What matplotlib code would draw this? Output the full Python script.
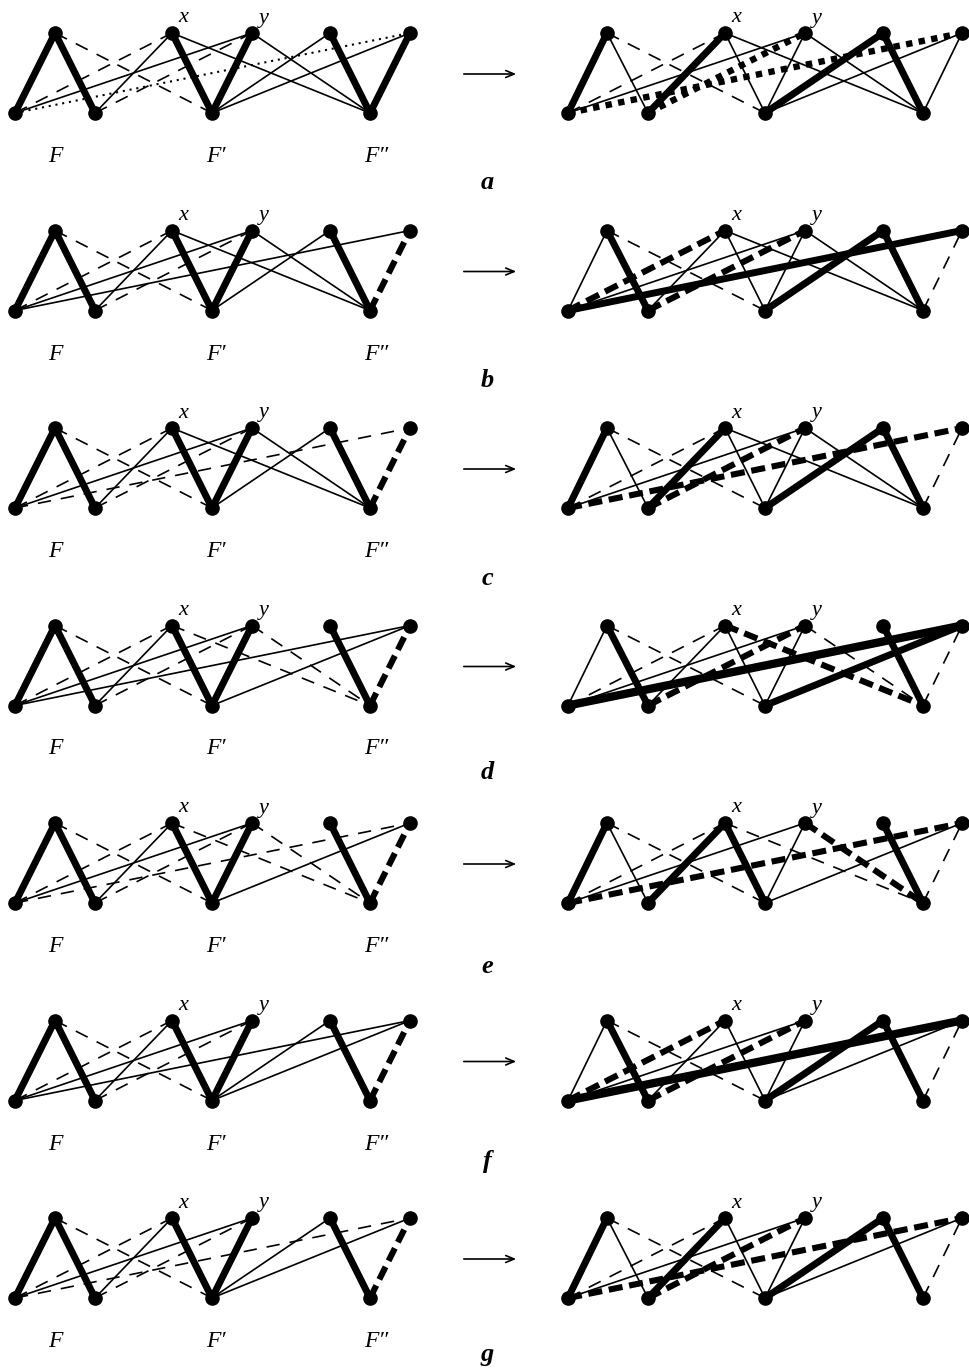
import matplotlib
matplotlib.use("Agg")
import matplotlib.pyplot as plt

# ---------------- data ----------------
ROW_LABELS = ["a", "b", "c", "d", "e", "f", "g"]
GROUP_LABELS = ["F", "F\u2032", "F\u2033"]
TOP_NAMES = ["x", "y"]

# edge kinds: K thick, V very thick, t thin, d dashed, D thick dashed,
# o dotted, O thick dotted
LEFT_EDGES = [
    {"K": ["B0T0", "T0B1", "T1B2", "B2T2", "T3B3", "B3T4"],
     "d": ["T0B2", "B0T1", "B1T2"],
     "t": ["B0T2", "B1T1", "T1B3", "T2B3", "B2T3", "B2T4"],
     "o": ["B0T4"]},
    {"K": ["B0T0", "T0B1", "T1B2", "B2T2", "T3B3"], "D": ["B3T4"],
     "d": ["T0B2", "B0T1", "B1T2"],
     "t": ["B1T1", "B0T2", "B0T4", "T1B3", "T2B3", "B2T3"]},
    {"K": ["B0T0", "T0B1", "T1B2", "B2T2", "T3B3"], "D": ["B3T4"],
     "d": ["T0B2", "B0T1", "B1T2", "B0T4"],
     "t": ["B1T1", "B0T2", "T1B3", "T2B3", "B2T3"]},
    {"K": ["B0T0", "T0B1", "T1B2", "B2T2", "T3B3"], "D": ["B3T4"],
     "d": ["T0B2", "B0T1", "B1T2", "T1B3", "T2B3"],
     "t": ["B1T1", "B0T2", "B0T4", "B2T4"]},
    {"K": ["B0T0", "T0B1", "T1B2", "B2T2", "T3B3"], "D": ["B3T4"],
     "d": ["T0B2", "B0T1", "B1T2", "B0T4", "T1B3", "T2B3"],
     "t": ["B1T1", "B0T2", "B2T4"]},
    {"K": ["B0T0", "T0B1", "T1B2", "B2T2", "T3B3"], "D": ["B3T4"],
     "d": ["T0B2", "B0T1", "B1T2"],
     "t": ["B1T1", "B0T2", "B0T4", "B2T3", "B2T4"]},
    {"K": ["B0T0", "T0B1", "T1B2", "B2T2", "T3B3"], "D": ["B3T4"],
     "d": ["T0B2", "B0T1", "B1T2", "B0T4"],
     "t": ["B1T1", "B0T2", "B2T3", "B2T4"]},
]

RIGHT_EDGES = [
    {"K": ["B0T0", "B1T1", "B2T3", "T3B3"],
     "t": ["T0B1", "T1B2", "B2T2", "T1B3", "T2B3", "B2T4", "B3T4", "B0T2"],
     "d": ["T0B2", "B0T1"],
     "O": ["B1T2", "B0T4"]},
    {"K": ["T0B1", "B0T4", "B2T3", "T3B3"],
     "t": ["B0T0", "B1T1", "T1B2", "B2T2", "T1B3", "T2B3", "B0T2"],
     "d": ["T0B2", "B3T4"],
     "D": ["B0T1", "B1T2"]},
    {"K": ["B0T0", "B1T1", "B2T3", "T3B3"],
     "t": ["T0B1", "T1B2", "B2T2", "B0T2", "T1B3", "T2B3"],
     "d": ["T0B2", "B0T1", "B3T4"],
     "D": ["B0T4", "B1T2"]},
    {"V": ["B0T4"], "K": ["T0B1", "B2T4", "T3B3"],
     "t": ["B0T0", "B1T1", "T1B2", "B2T2", "B0T2"],
     "d": ["T0B2", "B0T1", "B3T4", "T2B3"],
     "D": ["T1B3", "B1T2"]},
    {"K": ["B0T0", "B1T1", "T1B2", "T3B3"],
     "t": ["T0B1", "B2T2", "B0T2", "B2T4"],
     "d": ["T0B2", "B0T1", "B3T4", "T1B3"],
     "D": ["B0T4", "T2B3"]},
    {"V": ["B0T4"], "K": ["T0B1", "B2T3", "T3B3"],
     "t": ["B0T0", "B1T1", "T1B2", "B2T2", "B0T2", "B2T4"],
     "d": ["T0B2", "B3T4"],
     "D": ["B0T1", "B1T2"]},
    {"K": ["B0T0", "B1T1", "B2T3", "T3B3"],
     "t": ["T0B1", "T1B2", "B2T2", "B0T2", "B2T4"],
     "d": ["T0B2", "B0T1", "B3T4"],
     "D": ["B0T4", "B1T2"]},
]

# ---------------- layout ----------------
W, H = 969, 1371
LEFT_BOTTOM_X = [15, 95, 212, 370]
LEFT_TOP_X = [55, 172, 252, 330, 410]
RIGHT_BOTTOM_X = [568, 648, 765, 923]
RIGHT_TOP_X = [607, 725, 805, 883, 962]
ROW_TOP_Y0 = 33.0
ROW_STEP = 197.5
ROW_HEIGHT = 80.0
LETTER_BASE = [189, 387, 585, 779, 973, 1168, 1361]

STYLES = {
    "t": dict(lw=1.2, ls="-", z=2),
    "d": dict(lw=1.2, ls=(0, (8, 6)), z=2),
    "o": dict(lw=1.5, ls=(0, (1, 2.3)), z=2),
    "K": dict(lw=5.0, ls="-", z=4),
    "V": dict(lw=6.0, ls="-", z=4),
    "D": dict(lw=4.4, ls=(0, (2.3, 1.1)), z=3),
    "O": dict(lw=4.6, ls=(0, (1, 1.0)), z=3),
}

fig = plt.figure(figsize=(W / 100, H / 100), dpi=100)
ax = fig.add_axes([0, 0, 1, 1])
ax.set_xlim(0, W)
ax.set_ylim(H, 0)
ax.axis("off")


def node_pos(name, bx, tx, ytop):
    kind, idx = name[0], int(name[1])
    if kind == "B":
        return bx[idx], ytop + ROW_HEIGHT
    return tx[idx], ytop


def draw_graph(edges, bx, tx, ytop):
    for kind in ["t", "d", "o", "D", "O", "K", "V"]:
        st = STYLES[kind]
        for e in edges.get(kind, []):
            p = node_pos(e[:2], bx, tx, ytop)
            q = node_pos(e[2:], bx, tx, ytop)
            ax.plot([p[0], q[0]], [p[1], q[1]], color="black", lw=st["lw"],
                    linestyle=st["ls"], solid_capstyle="round",
                    dash_capstyle="butt", zorder=st["z"])
    ax.plot(bx, [ytop + ROW_HEIGHT] * len(bx), "o", color="black",
            markersize=9.5, zorder=6)
    ax.plot(tx, [ytop] * len(tx), "o", color="black", markersize=9.5,
            zorder=6)


serif = "Liberation Serif"
for i, lab in enumerate(ROW_LABELS):
    ytop = ROW_TOP_Y0 + ROW_STEP * i
    draw_graph(LEFT_EDGES[i], LEFT_BOTTOM_X, LEFT_TOP_X, ytop)
    draw_graph(RIGHT_EDGES[i], RIGHT_BOTTOM_X, RIGHT_TOP_X, ytop)

    # x, y labels
    for tx in (LEFT_TOP_X, RIGHT_TOP_X):
        ax.text(tx[1] + 11, ytop - 15, TOP_NAMES[0], fontsize=16,
                family=serif, style="italic", ha="center", va="center")
        ax.text(tx[2] + 12, ytop - 15, TOP_NAMES[1], fontsize=16,
                family=serif, style="italic", ha="center", va="center")

    # F labels
    for gx, g in zip([55, 216, 376], GROUP_LABELS):
        ax.text(gx, ytop + 129, g, fontsize=17, family=serif, style="italic",
                ha="center", va="baseline")

    # arrow
    ax.annotate("", xy=(519, ytop + 41), xytext=(461, ytop + 41),
                arrowprops=dict(arrowstyle="->,head_length=0.6,head_width=0.25",
                                lw=1.2, color="black"))

    # row letter
    ax.text(487, LETTER_BASE[i], lab, fontsize=19, family=serif,
            style="italic", weight="bold", ha="center", va="baseline")

fig.savefig("out.png", dpi=100)
